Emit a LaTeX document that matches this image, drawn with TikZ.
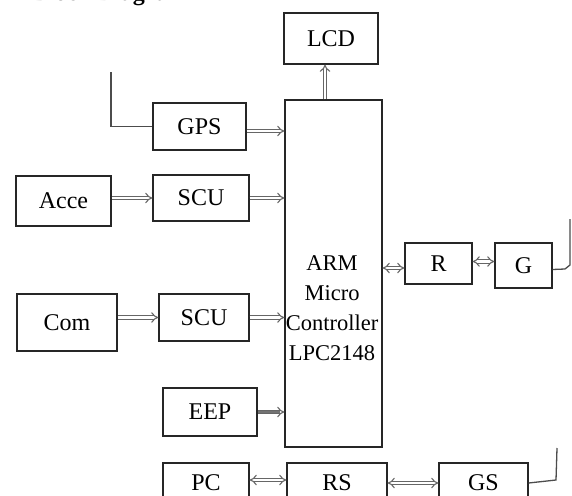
\documentclass[tikz,border=0pt]{standalone}
\usepackage{fontspec}
\setmainfont{Liberation Serif}
\usetikzlibrary{arrows.meta}
\begin{document}
\begin{tikzpicture}[x=1pt,y=-1pt,
  box/.style={draw=black!85, line width=1.3pt, fill=white, inner sep=0pt,
    font=\fontsize{24}{28}\selectfont},
  arr/.style={draw=black!60, line width=1.1pt, double=white, double distance=2.4pt, -{Implies}},
  barr/.style={draw=black!60, line width=1.1pt, double=white, double distance=2.4pt, {Implies}-{Implies}},
  garr/.style={draw=black!60, line width=1.1pt, double=black!55, double distance=2.4pt, -{Implies}},
  ant/.style={draw=black!70, line width=1.3pt}]
\useasboundingbox (0,0) rectangle (572,495);
% partially visible title
\node[anchor=base west, inner sep=0pt, font=\fontsize{24}{28}\selectfont\bfseries] (title) at (32,0.5) {Block Diagram};
% boxes
\node[box, minimum width=94pt, minimum height=51pt] (lcd) at (331,38.5) {LCD};
\node[box, minimum width=97pt, minimum height=347pt] (arm) at (333.5,273.5) {};
\node[align=center, inner sep=0pt, font=\fontsize{22.5}{30}\selectfont] (armtext) at (332,308) {ARM\\Micro\\Controller\\LPC2148};
\node[box, minimum width=93pt, minimum height=47pt] (gps) at (199.5,126.5) {GPS};
\node[box, minimum width=95pt, minimum height=50pt] (acce) at (63.5,201) {Acce};
\node[box, minimum width=96pt, minimum height=46pt] (scua) at (201,198) {SCU};
\node[box, minimum width=100pt, minimum height=57pt] (com) at (67,322.5) {Com};
\node[box, minimum width=90pt, minimum height=47pt] (scub) at (204,317.5) {SCU};
\node[box, minimum width=67pt, minimum height=41pt] (r) at (438.5,263.5) {R};
\node[box, minimum width=57pt, minimum height=45pt] (g) at (523.5,265.5) {G};
\node[box, minimum width=94pt, minimum height=48pt] (eep) at (210,412) {EEP};
\node[box, minimum width=86pt, minimum height=40pt] (pc) at (206,483) {PC};
\node[box, minimum width=100pt, minimum height=40pt] (rs) at (337,483) {RS};
\node[box, minimum width=89pt, minimum height=40pt] (gs) at (483.5,483) {GS};
% antenna ends
\coordinate (gpsant) at (111,72);
\coordinate (gant) at (570,219);
\coordinate (gsant) at (557,448);
% connectors
\draw[arr] ([xshift=-6pt]lcd.south |- arm.north) -- ([xshift=-6pt]lcd.south);
\draw[arr] ([yshift=-4.5pt]gps.east) -- ([yshift=-4.5pt]gps.east -| arm.west);
\draw[arr] (acce.east |- scua.west) -- (scua.west);
\draw[arr] (scua.east) -- (scua.east -| arm.west);
\draw[arr] (com.east |- scub.west) -- (scub.west);
\draw[arr] (scub.east) -- (scub.east -| arm.west);
\draw[garr] (eep.east) -- (eep.east -| arm.west);
\draw[barr] ([yshift=-4.5pt]r.west -| arm.east) -- ([yshift=-4.5pt]r.west);
\draw[barr] ([yshift=2pt]r.east) -- ([yshift=2pt]r.east -| g.west);
\draw[barr] ([yshift=3pt]pc.east) -- ([yshift=3pt]pc.east -| rs.west);
\draw[barr] (rs.east) -- (rs.east -| gs.west);
\draw[ant] (gps.west) -| (gpsant);
\draw[ant] ([yshift=-4pt]g.east) -- (565,269) -- (570,265) -- (gant);
\draw[ant] (gs.east) -- (556,480) -- (gsant);
\end{tikzpicture}
\end{document}
